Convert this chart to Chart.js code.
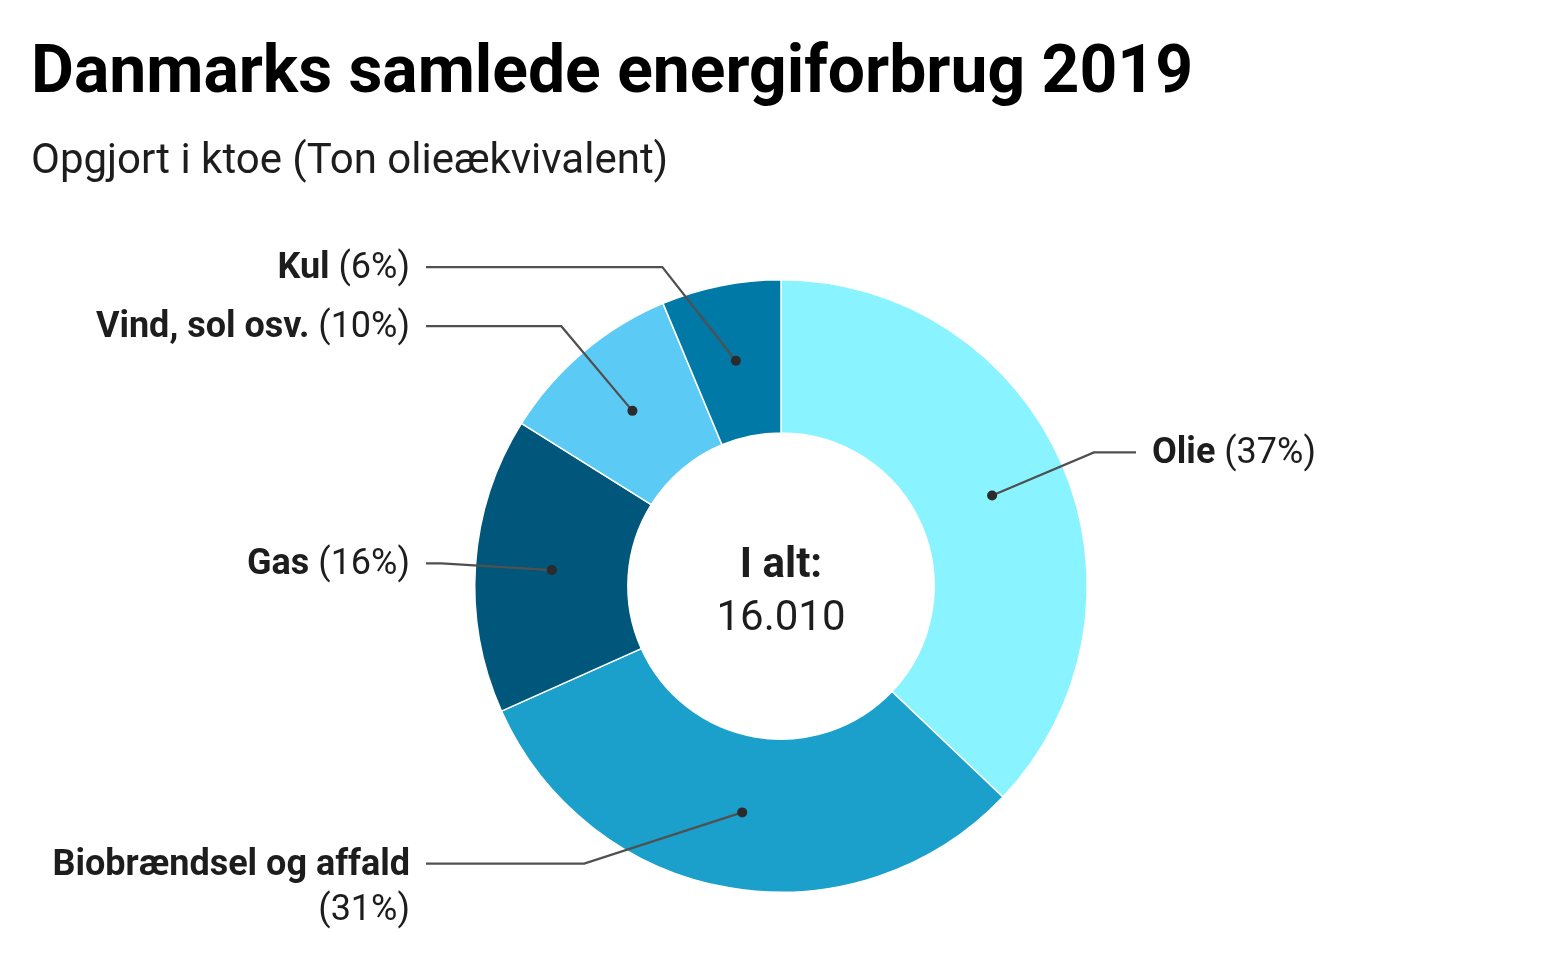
<!DOCTYPE html>
<html lang="da">
<head>
<meta charset="utf-8">
<script src="https://cdn.jsdelivr.net/npm/chart.js@4"></script>
<style>
  html, body { margin: 0; padding: 0; background: #fff; }
  #wrap { width: 1560px; height: 972px; position: relative; }
</style>
</head>
<body>
<div id="wrap"><canvas id="energyChart" width="1560" height="972"></canvas></div>
<script>
// Data
const categories = ["Olie", "Biobrændsel og affald", "Gas", "Vind, sol osv.", "Kul"];
const values = [5940, 4995, 2498, 1569, 1008];
const percentLabels = ["37%", "31%", "16%", "10%", "6%"];
const totalLabel = "16.010";
const sliceColors = ["#89f3ff", "#1ba0cc", "#01567c", "#5bcbf5", "#0079a6"];

const FONT = "Roboto, 'Noto Sans', sans-serif";
const TEXT = "#1d1d1d";

// small vertical nudges for label placement
const labelNudge = [-5, -44, 0, -11, 1];

// Title, subtitle, center text
const textPlugin = {
  id: "texts",
  afterDraw(chart) {
    const ctx = chart.ctx;
    ctx.save();
    ctx.fillStyle = "#000";
    ctx.textAlign = "left";
    ctx.textBaseline = "alphabetic";
    ctx.font = "bold 66px " + FONT;
    ctx.fillText("Danmarks samlede energiforbrug 2019", 31, 92);
    ctx.fillStyle = TEXT;
    ctx.font = "42px " + FONT;
    ctx.fillText("Opgjort i ktoe (Ton olieækvivalent)", 31, 173);

    const arc = chart.getDatasetMeta(0).data[0];
    ctx.textAlign = "center";
    ctx.font = "bold 42px " + FONT;
    ctx.fillText("I alt:", arc.x, 577);
    ctx.font = "42px " + FONT;
    ctx.fillText(totalLabel, arc.x, 630);
    ctx.restore();
  },
};

// Leader lines with labels
const leaderPlugin = {
  id: "leaders",
  afterDatasetsDraw(chart) {
    const ctx = chart.ctx;
    const meta = chart.getDatasetMeta(0);
    ctx.save();
    meta.data.forEach((arc, i) => {
      const cx = arc.x, cy = arc.y;
      const R = arc.outerRadius;
      const mid = (arc.startAngle + arc.endAngle) / 2;
      const dot = arc.tooltipPosition();
      const right = Math.cos(mid) >= 0;
      const side = right ? 1 : -1;
      const ly = cy + (R + 20) * Math.sin(mid) + labelNudge[i];
      const er = R + 34;
      const dy = ly - cy;
      const ex = cx + side * Math.sqrt(Math.max(0, er * er - dy * dy));
      const lineEnd = cx + side * 355;

      ctx.strokeStyle = "#505050";
      ctx.lineWidth = 2.2;
      ctx.beginPath();
      ctx.moveTo(dot.x, dot.y);
      ctx.lineTo(ex, ly);
      ctx.lineTo(lineEnd, ly);
      ctx.stroke();

      ctx.fillStyle = "#2b2b2b";
      ctx.beginPath();
      ctx.arc(dot.x, dot.y, 5, 0, Math.PI * 2);
      ctx.fill();

      // text
      const tx = cx + side * 371;
      const bold = "bold 36px " + FONT;
      const reg = "36px " + FONT;
      const name = categories[i];
      const pct = "(" + percentLabels[i] + ")";
      ctx.fillStyle = TEXT;
      ctx.textBaseline = "middle";
      ctx.textAlign = "left";
      const long = i === 1;
      if (long) {
        ctx.font = bold;
        const w = ctx.measureText(name).width;
        ctx.fillText(name, tx - w, ly + 2);
        ctx.font = reg;
        const pw = ctx.measureText(pct).width;
        ctx.fillText(pct, tx - pw, ly + 47);
      } else {
        ctx.font = bold;
        const nw = ctx.measureText(name + " ").width;
        ctx.font = reg;
        const pw = ctx.measureText(pct).width;
        const start = right ? tx : tx - nw - pw;
        ctx.font = bold;
        ctx.fillText(name, start, ly + 2);
        ctx.font = reg;
        ctx.fillText(pct, start + nw, ly + 2);
      }
    });
    ctx.restore();
  },
};

const chart = new Chart(document.getElementById("energyChart"), {
  type: "doughnut",
  data: {
    labels: categories,
    datasets: [
      {
        data: values,
        backgroundColor: sliceColors,
        borderColor: "#ffffff",
        borderWidth: 1.5,
      },
    ],
  },
  options: {
    responsive: false,
    animation: false,
    cutout: "50%",
    layout: { padding: { top: 279, bottom: 79, left: 2, right: 0 } },
    plugins: {
      legend: { display: false },
      tooltip: { enabled: false },
    },
  },
  plugins: [leaderPlugin, textPlugin],
});
</script>
</body>
</html>
